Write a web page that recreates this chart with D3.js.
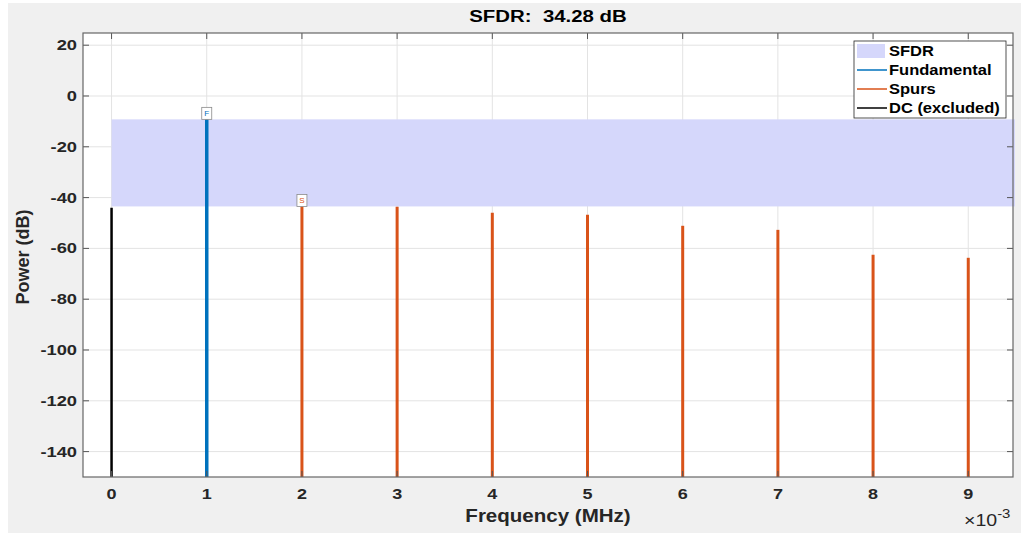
<!DOCTYPE html>
<html><head><meta charset="utf-8">
<script src="https://cdn.jsdelivr.net/npm/d3@7"></script>
<style>
body{margin:0;background:#fff;}
text{font-family:"Liberation Sans",Arial,sans-serif;}
</style></head>
<body>
<svg id="chart" width="1021" height="533"></svg>
<script>
// Spectrum peaks (frequency in units of 1e-3 MHz, power in dB)
const dcFreq = [0];
const dcPower = [-44.0];
const fundFreq = [1];
const fundPower = [-9.2];
const spurFreq = [2, 3, 4, 5, 6, 7, 8, 9];
const spurPower = [-43.48, -43.6, -46.0, -46.8, -51.1, -52.7, -62.5, -63.7];
const sfdrValue = 34.28;
const yTicks = [20, 0, -20, -40, -60, -80, -100, -120, -140];
const xTicks = [0, 1, 2, 3, 4, 5, 6, 7, 8, 9];
const legendItems = ["SFDR", "Fundamental", "Spurs", "DC (excluded)"];

const svg = d3.select("#chart");
const W = 1021, H = 533;
const m = {left: 83, top: 33, right: 1013, bottom: 477};

svg.append("rect").attr("x", 8).attr("y", 3).attr("width", W - 8).attr("height", H - 3).attr("fill", "#f0f0f0");
svg.append("rect").attr("x", m.left).attr("y", m.top).attr("width", m.right - m.left).attr("height", m.bottom - m.top).attr("fill", "#fff");

const x = d3.scaleLinear().domain([-0.3, 9.47]).range([m.left, m.right]);
const y = d3.scaleLinear().domain([-150, 24.8]).range([m.bottom, m.top]);

const blue = "#0072BD", orange = "#D95319", axisCol = "#262626";

// wide bold label helper: text drawn at (tx,ty) with a horizontal stretch
function label(parent, tx, ty, str, size, sx, anchor, color) {
  return parent.append("text")
    .attr("transform", `translate(${tx},${ty}) scale(${sx},1)`)
    .attr("text-anchor", anchor).attr("font-size", size).attr("font-weight", "bold")
    .attr("fill", color || axisCol).attr("xml:space", "preserve").text(str);
}

// grid
const g = svg.append("g");
g.selectAll(".gx").data(xTicks).join("line")
  .attr("x1", d => x(d)).attr("x2", d => x(d)).attr("y1", m.top).attr("y2", m.bottom)
  .attr("stroke", "#e3e3e3").attr("stroke-width", 1);
g.selectAll(".gy").data(yTicks).join("line")
  .attr("x1", m.left).attr("x2", m.right).attr("y1", d => y(d)).attr("y2", d => y(d))
  .attr("stroke", "#e3e3e3").attr("stroke-width", 1);

// SFDR band
const fundTop = fundPower[0];
const sfdrBottom = fundTop - sfdrValue;
svg.append("rect")
  .attr("x", x(fundFreq[0] - 1)).attr("width", m.right + 2 - x(fundFreq[0] - 1))
  .attr("y", y(fundTop)).attr("height", y(sfdrBottom) - y(fundTop))
  .attr("fill", "#d5d7fb");

// stems
function stems(fs, ps, color, w) {
  svg.append("g").selectAll("line").data(fs).join("line")
    .attr("x1", d => x(d)).attr("x2", d => x(d))
    .attr("y1", m.bottom).attr("y2", (d, i) => y(ps[i]))
    .attr("stroke", color).attr("stroke-width", w);
}
stems(spurFreq, spurPower, orange, 3);
stems(fundFreq, fundPower, blue, 3.5);
stems(dcFreq, dcPower, "#000", 2.5);

// markers
function marker(fx, p, letter, color) {
  const cx = x(fx), cy = y(p) - 6;
  svg.append("rect").attr("x", cx - 5).attr("y", cy - 6).attr("width", 10).attr("height", 12)
    .attr("fill", "#fff").attr("stroke", "#8a8a8a").attr("stroke-width", 0.8);
  svg.append("text").attr("x", cx).attr("y", cy + 3).attr("text-anchor", "middle")
    .attr("font-size", 8).attr("fill", color).text(letter);
}
marker(fundFreq[0], fundPower[0], "F", blue);
marker(spurFreq[0], spurPower[0], "S", orange);

// axes
const ax = svg.append("g").attr("stroke", axisCol).attr("fill", "none");
const tl = 6;
xTicks.forEach(t => {
  ax.append("line").attr("x1", x(t)).attr("x2", x(t)).attr("y1", m.bottom).attr("y2", m.bottom - tl).attr("stroke", "#555");
  ax.append("line").attr("x1", x(t)).attr("x2", x(t)).attr("y1", m.top).attr("y2", m.top + tl).attr("stroke", "#555");
});
yTicks.forEach(t => {
  ax.append("line").attr("y1", y(t)).attr("y2", y(t)).attr("x1", m.left).attr("x2", m.left + tl).attr("stroke", "#555");
  ax.append("line").attr("y1", y(t)).attr("y2", y(t)).attr("x1", m.right).attr("x2", m.right - tl).attr("stroke", "#555");
});
ax.append("rect").attr("x", m.left).attr("y", m.top).attr("width", m.right - m.left).attr("height", m.bottom - m.top)
  .attr("stroke", "#666").attr("stroke-width", 1.2);

const xl = svg.append("g");
xTicks.forEach(t => label(xl, x(t), m.bottom + 22, String(t), 15, 1.2, "middle"));
const yl = svg.append("g");
yTicks.forEach(t => label(yl, m.left - 6, y(t) + 5, String(t), 15, 1.22, "end"));

// titles
label(svg, (m.left + m.right) / 2, 22, "SFDR:  " + sfdrValue.toFixed(2) + " dB", 17, 1.2, "middle", "#000");
label(svg, 548, 522, "Frequency (MHz)", 18, 1.14, "middle");
svg.append("text").attr("transform", `translate(29,${(m.top + m.bottom) / 2 + 2}) rotate(-90)`)
  .attr("text-anchor", "middle").attr("font-size", 18).attr("font-weight", "bold").attr("fill", axisCol).text("Power (dB)");
const exp = svg.append("text").attr("transform", "translate(964,526) scale(1.15,1)").attr("font-size", 17).attr("fill", axisCol);
exp.append("tspan").text("×10");
exp.append("tspan").attr("dy", -8).attr("font-size", 13).text("-3");

// legend
const lg = svg.append("g").attr("transform", "translate(854,41)");
lg.append("rect").attr("width", 152).attr("height", 77).attr("fill", "#fff").attr("stroke", "#262626").attr("stroke-width", 0.8);
legendItems.forEach((name, i) => {
  const yy = 10 + i * 19;
  if (i === 0) {
    lg.append("rect").attr("x", 3).attr("y", yy - 7).attr("width", 28).attr("height", 14).attr("fill", "#d5d7fb");
  } else {
    const c = [blue, orange, "#000"][i - 1];
    lg.append("line").attr("x1", 3).attr("x2", 33).attr("y1", yy).attr("y2", yy).attr("stroke", c).attr("stroke-width", 1.5);
  }
  label(lg, 35, yy + 5, name, 15, 1.1, "start", "#000");
});
</script>
</body></html>
